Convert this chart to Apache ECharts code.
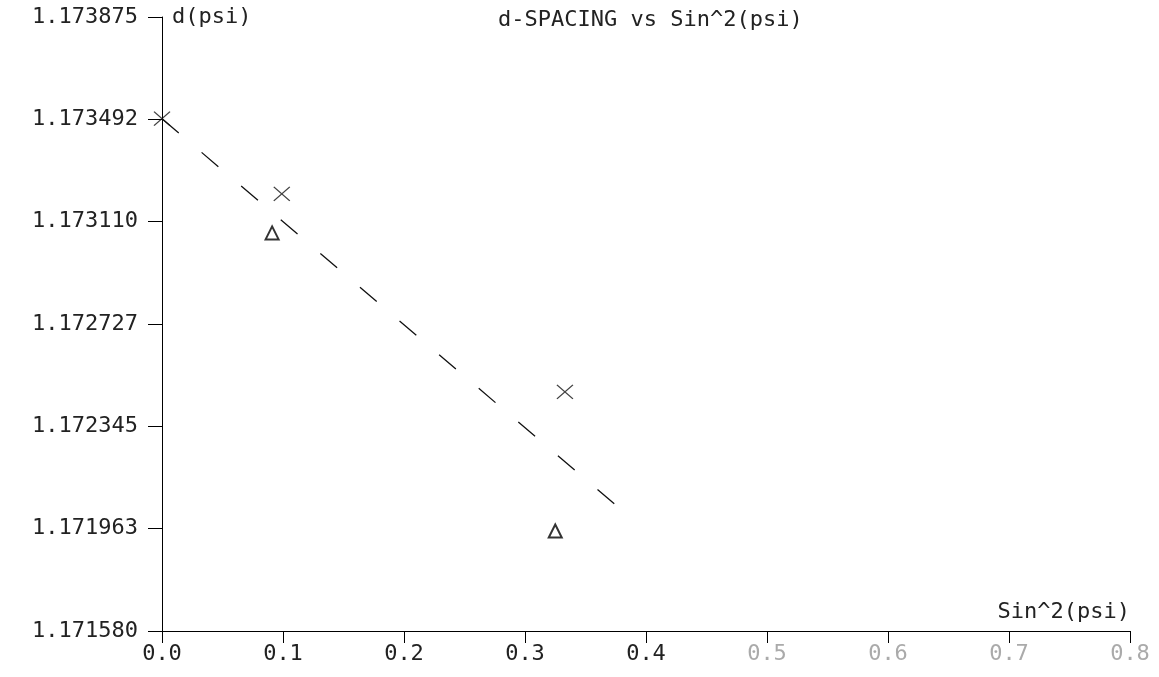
<!DOCTYPE html>
<html>
<head>
<meta charset="utf-8">
<script src="https://cdn.jsdelivr.net/npm/echarts@6/dist/echarts.min.js"></script>
<style>
  html, body { margin: 0; padding: 0; background: #fff; }
  #chart { width: 1159px; height: 677px; }
</style>
</head>
<body>
<div id="chart"></div>
<script>
// measured points, sin^2(psi) vs d
var crossX = [0.0, 0.099, 0.333];
var crossY = [1.173495, 1.173214, 1.172474];
var triX = [0.091, 0.325];
var triY = [1.173068, 1.171954];
// fitted line end points
var fitX = [0.0, 0.383];
var fitY = [1.173495, 1.172020];

var yTicks = [1.17158, 1.1719625, 1.172345, 1.1727275, 1.17311, 1.1734925, 1.173875];
var yTickLabels = ['1.171580', '1.171963', '1.172345', '1.172727', '1.173110', '1.173492', '1.173875'];

var FONT = 'DejaVu Sans Mono';
var INK = '#222';
var FS = 22;

function pairs(xs, ys) {
  return xs.map(function (x, i) { return [x, ys[i]]; });
}

var chart = echarts.init(document.getElementById('chart'));

var option = {
  backgroundColor: '#fff',
  animation: false,
  title: {
    text: 'd-SPACING vs Sin^2(psi)',
    left: 493,
    top: 4,
    textStyle: { fontFamily: FONT, fontSize: FS, fontWeight: 'normal', color: INK }
  },
  grid: { left: 162, right: 29, top: 17, bottom: 46 },
  xAxis: {
    type: 'value',
    min: 0,
    max: 0.8,
    interval: 0.1,
    name: 'Sin^2(psi)',
    nameLocation: 'end',
    nameGap: 0,
    nameTextStyle: {
      fontFamily: FONT, fontSize: FS, color: INK,
      align: 'right', verticalAlign: 'bottom', padding: [0, 0, 8, 0]
    },
    axisLine: { lineStyle: { color: '#000', width: 1 } },
    axisTick: { inside: false, length: 12, lineStyle: { color: '#000' } },
    axisLabel: {
      margin: 12,
      fontFamily: FONT,
      fontSize: FS,
      color: function (v) { return v >= 0.45 ? '#aaa' : INK; },
      formatter: function (v) { return v.toFixed(1); }
    },
    splitLine: { show: false }
  },
  yAxis: {
    type: 'value',
    min: yTicks[0],
    max: yTicks[yTicks.length - 1],
    name: 'd(psi)',
    nameLocation: 'end',
    nameGap: 0,
    nameTextStyle: {
      fontFamily: FONT, fontSize: FS, color: INK,
      align: 'left', verticalAlign: 'middle', padding: [0, 0, 0, 10]
    },
    axisLine: { show: true, lineStyle: { color: '#000', width: 1 } },
    axisTick: { show: true, inside: false, length: 14, customValues: yTicks, lineStyle: { color: '#000' } },
    axisLabel: {
      margin: 24,
      fontFamily: FONT,
      fontSize: FS,
      color: INK,
      customValues: yTicks,
      formatter: function (v) {
        var best = 0;
        for (var i = 1; i < yTicks.length; i++) {
          if (Math.abs(yTicks[i] - v) < Math.abs(yTicks[best] - v)) best = i;
        }
        return yTickLabels[best];
      }
    },
    splitLine: { show: false }
  },
  series: [
    {
      type: 'line',
      data: pairs(fitX, fitY),
      symbol: 'none',
      silent: true,
      lineStyle: { color: '#111', width: 1.3, type: [22, 30] },
      z: 1
    },
    {
      type: 'scatter',
      data: pairs(crossX, crossY),
      symbol: 'path://M0,0L10,10M10,0L0,10',
      symbolSize: [16, 14],
      itemStyle: { color: 'none', borderColor: '#111', borderWidth: 1.3 },
      z: 3
    },
    {
      type: 'scatter',
      data: pairs(triX, triY),
      symbol: 'emptyTriangle',
      symbolSize: [13, 13],
      itemStyle: { color: '#000', borderColor: '#000', borderWidth: 2 },
      z: 3
    }
  ]
};

chart.setOption(option);
</script>
</body>
</html>
